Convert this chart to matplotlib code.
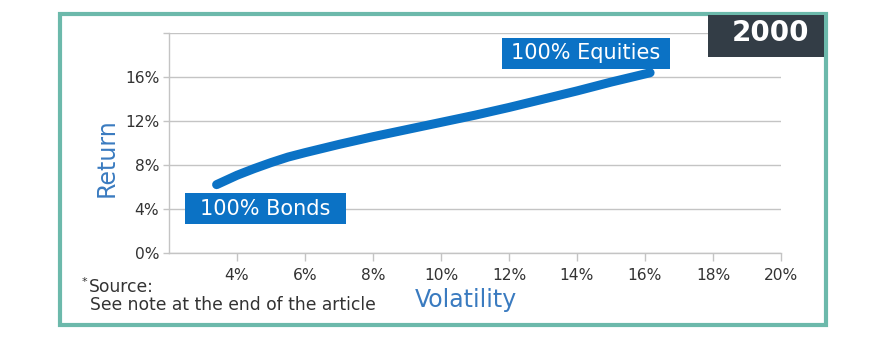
import matplotlib
matplotlib.use("Agg")
import matplotlib.pyplot as plt
from matplotlib.patches import Rectangle
import numpy as np

# ---- data ----
volatility = [3.4, 4.0, 4.5, 5.0, 5.5, 6.0, 7.0, 8.0, 9.0, 10.0, 11.0, 12.0, 13.0, 14.0, 15.0, 16.15]
returns = [6.2, 7.05, 7.65, 8.2, 8.7, 9.1, 9.85, 10.55, 11.2, 11.85, 12.5, 13.2, 13.95, 14.7, 15.5, 16.35]
x_ticks = [4, 6, 8, 10, 12, 14, 16, 18, 20]
y_ticks = [0, 4, 8, 12, 16, 20]
y_tick_labels = ["0%", "4%", "8%", "12%", "16%", ""]
x_tick_labels = [f"{v}%" for v in x_ticks]
year = "2000"
label_start = "100% Bonds"
label_end = "100% Equities"

BLUE = "#0b72c5"
LABEL_BLUE = "#3a7bc0"
GRID = "#c4c4c4"
TEXT = "#333333"
TEAL = "#6cb9ab"
DARK = "#333d46"

plt.rcParams['font.family'] = ['DejaVu Sans']

fig = plt.figure(figsize=(8.93, 3.54), dpi=100)
ax = fig.add_axes([169/893, (354-253)/354, (781-169)/893, (253-32.5)/354])

ax.plot(volatility, returns, color=BLUE, lw=6.5, solid_capstyle='round',
        solid_joinstyle='round', zorder=3)

ax.set_xlim(2, 20)
ax.set_ylim(0, 20)
ax.set_xticks(x_ticks)
ax.set_xticklabels(x_tick_labels)
ax.set_yticks(y_ticks)
ax.set_yticklabels(y_tick_labels)
ax.grid(axis='y', color=GRID, lw=1.0)
ax.set_axisbelow(True)
for s in ['top', 'right']:
    ax.spines[s].set_visible(False)
for s in ['left', 'bottom']:
    ax.spines[s].set_color(GRID)
    ax.spines[s].set_linewidth(1.0)
ax.tick_params(axis='x', length=6, width=1, color=GRID, pad=5, labelsize=11.2, labelcolor=TEXT)
ax.tick_params(axis='y', length=4, width=1, color=GRID, pad=3, labelsize=11.2, labelcolor=TEXT)

ax.text((107-169)/612, (253-158)/220.5, "Return", transform=ax.transAxes, rotation=90,
        ha='center', va='center', fontsize=17, color=LABEL_BLUE)
ax.text((466-169)/612, (253-300)/220.5, "Volatility", transform=ax.transAxes,
        ha='center', va='center', fontsize=17, color=LABEL_BLUE)

# labels on curve ends
def label_box(x0, x1, y0, y1, txt):
    ax.add_patch(Rectangle((x0, y0), x1-x0, y1-y0, facecolor=BLUE, edgecolor='none',
                           clip_on=False, zorder=4))
    ax.text((x0+x1)/2, (y0+y1)/2, txt, ha='center', va='center', color='white',
            fontsize=15, zorder=5, clip_on=False)

label_box(2.47, 7.21, 2.62, 5.42, label_start)
label_box(11.79, 16.74, 16.71, 19.51, label_end)

# frame
fig.patches.append(Rectangle((60/893, (354-324.5)/354), (826-60)/893, (324.5-13.5)/354,
                             transform=fig.transFigure, fill=False, edgecolor=TEAL, lw=3))
# year box
fig.patches.append(Rectangle((708/893, (354-57)/354), (824-708)/893, (57-15)/354,
                             transform=fig.transFigure, facecolor=DARK, edgecolor='none'))
fig.text(770/893, (354-33)/354, year, ha='center', va='center', color='white',
         fontsize=20, fontweight='bold')

# source note
fig.text(82/893, (354-282)/354, "*", ha='left', va='center', fontsize=8, color=TEXT)
fig.text(89/893, (354-287)/354, "Source:", ha='left', va='center', fontsize=12.3, color=TEXT)
fig.text(90/893, (354-305)/354, "See note at the end of the article", ha='left', va='center',
         fontsize=12.3, color=TEXT)

fig.savefig("out.png", dpi=100)
